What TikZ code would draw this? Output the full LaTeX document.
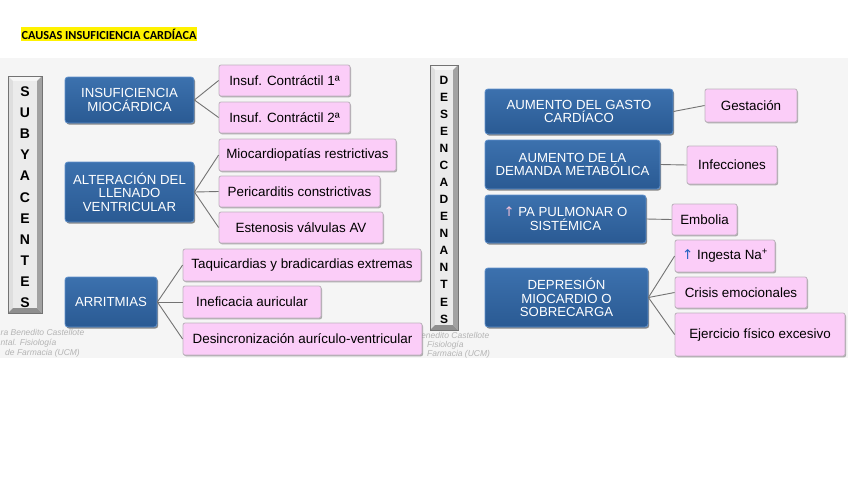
\documentclass[tikz,border=0pt]{standalone}
\usepackage{fontspec}
\setmainfont{Liberation Sans}
\newfontfamily\titlefont{Carlito}
\newfontfamily\symfont{DejaVu Sans}
\usetikzlibrary{shadows}
\definecolor{bluetop}{HTML}{3C71AE}
\definecolor{bluebot}{HTML}{2A5A93}
\definecolor{blueedge}{HTML}{5F90CB}
\definecolor{pinkfill}{HTML}{FBCDF8}
\definecolor{pinkedge}{HTML}{BDB3BD}
\definecolor{linkgray}{HTML}{737373}
\definecolor{wmgray}{HTML}{B4B4B4}
\definecolor{bgray}{HTML}{F5F5F5}
\definecolor{bevtop}{HTML}{F6F6F6}
\definecolor{bevleft}{HTML}{DEDEDE}
\definecolor{bevright}{HTML}{A2A2A2}
\definecolor{bevbot}{HTML}{8E8E8E}
\definecolor{bevin}{HTML}{EBEBEB}
\definecolor{uparrowpink}{HTML}{F2C0D8}
\definecolor{uparrowblue}{HTML}{2060C0}
\newcommand{\bevbox}[4]{%
  \fill[bevtop] (#1,#2) -- (#3,#2) -- ({#3-5},{#2+5}) -- ({#1+5},{#2+5}) -- cycle;
  \fill[bevleft] (#1,#2) -- ({#1+5},{#2+5}) -- ({#1+5},{#4-5}) -- (#1,#4) -- cycle;
  \fill[bevright] (#3,#2) -- (#3,#4) -- ({#3-5},{#4-5}) -- ({#3-5},{#2+5}) -- cycle;
  \fill[bevbot] (#1,#4) -- ({#1+5},{#4-5}) -- ({#3-5},{#4-5}) -- (#3,#4) -- cycle;
  \fill[bevin] ({#1+5},{#2+5}) rectangle ({#3-5},{#4-5});
  \draw[black!55, line width=0.6pt] (#1,#2) rectangle (#3,#4);
}
\begin{document}
\begin{tikzpicture}[x=1pt,y=-1pt,
  bluebox/.style={rounded corners=3pt, top color=bluetop, bottom color=bluebot,
    draw=blueedge, line width=0.8pt, text=white, align=center,
    font=\fontsize{13.2}{13.6}\selectfont, inner sep=1pt,
    drop shadow={shadow xshift=1.2pt, shadow yshift=-1.6pt, opacity=0.45, fill=black}},
  pinkbox/.style={rounded corners=2pt, fill=pinkfill, draw=pinkedge, line width=0.8pt,
    align=center, font=\fontsize{13.4}{15}\selectfont, inner sep=1pt,
    drop shadow={shadow xshift=1pt, shadow yshift=-1.3pt, opacity=0.3, fill=black}},
  link/.style={draw=linkgray, line width=0.9pt},
  letterA/.style={font=\bfseries\fontsize{14}{14}\selectfont, inner sep=0pt},
  letterB/.style={font=\bfseries\fontsize{12}{12}\selectfont, inner sep=0pt},
  wm/.style={text=wmgray, font=\itshape\fontsize{8.5}{9}\selectfont, inner sep=0pt, anchor=west}
]
\useasboundingbox (0,0) rectangle (848,477);
% background of the two slides
\fill[bgray] (0,58) rectangle (848,358);
\node[wm] (wma) at (0.5,332) {ra Benedito Castellote};
\node[wm] (wmb) at (0.5,343.5) {ntal. Fisiología};
\node[wm] (wmc) at (5,353.5) {de Farmacia (UCM)};
\node[wm] (wmd) at (421,335) {enedito Castellote};
\node[wm] (wme) at (427,345) {Fisiología};
\node[wm] (wmf) at (427,354) {Farmacia (UCM)};

% title
\node[anchor=west, fill=yellow, inner xsep=0.5pt, inner ysep=1.5pt,
  font=\titlefont\bfseries\fontsize{12.3}{13}\selectfont] (title) at (21,34)
  {CAUSAS INSUFICIENCIA CARDÍACA};

% letter columns
\bevbox{8}{76}{42}{313}
\foreach \l [count=\i] in {S,U,B,Y,A,C,E,N,T,E,S}
  \node[letterA] (sub\i) at (25,{91.7+(\i-1)*21.1}) {\l};
\bevbox{430}{65}{458}{330}
\foreach \l [count=\i] in {D,E,S,E,N,C,A,D,E,N,A,N,T,E,S}
  \node[letterB] (des\i) at (444,{80+(\i-1)*17.07}) {\l};

% left diagram
\node[bluebox, minimum width=129, minimum height=46] (im) at (129.5,100) {INSUFICIENCIA\\MIOCÁRDICA};
\node[pinkbox, minimum width=131, minimum height=31] (ic1) at (284.5,80.5) {Insuf. Contráctil 1ª};
\node[pinkbox, minimum width=131, minimum height=31] (ic2) at (284.5,117.5) {Insuf. Contráctil 2ª};
\node[bluebox, minimum width=129, minimum height=60] (alt) at (129.5,192) {ALTERACIÓN DEL\\LLENADO\\VENTRICULAR};
\node[pinkbox, minimum width=177, minimum height=32] (mr) at (307.5,155) {Miocardiopatías restrictivas};
\node[pinkbox, minimum width=161, minimum height=31] (pc) at (299.5,191.5) {Pericarditis constrictivas};
\node[pinkbox, minimum width=164, minimum height=31] (ev) at (301,227.5) {Estenosis válvulas AV};
\node[bluebox, minimum width=92, minimum height=50] (arr) at (111,302) {ARRITMIAS};
\node[pinkbox, minimum width=238, minimum height=32] (tq) at (302,265) {Taquicardias y bradicardias extremas};
\node[pinkbox, minimum width=138, minimum height=32] (ia) at (252,302) {Ineficacia auricular};
\node[pinkbox, minimum width=239, minimum height=32] (ds) at (302.5,339) {Desincronización aurículo-ventricular};

\draw[link] (im.east) -- (ic1.west);
\draw[link] (im.east) -- (ic2.west);
\draw[link] (alt.east) -- (mr.west);
\draw[link] (alt.east) -- (pc.west);
\draw[link] (alt.east) -- (ev.west);
\draw[link] (arr.east) -- (tq.west);
\draw[link] (arr.east) -- (ia.west);
\draw[link] (arr.east) -- (ds.west);

% right diagram
\node[bluebox, minimum width=188, minimum height=45] (agc) at (579,111.5) {AUMENTO DEL GASTO\\CARDÍACO};
\node[pinkbox, minimum width=92, minimum height=33] (gest) at (751,105.5) {Gestación};
\node[bluebox, minimum width=175, minimum height=49] (adm) at (572.5,164.5) {AUMENTO DE LA\\DEMANDA METABÓLICA};
\node[pinkbox, minimum width=90, minimum height=38] (inf) at (732,165) {Infecciones};
\node[bluebox, minimum width=161, minimum height=48] (pa) at (565.5,219) {{\symfont\color{uparrowpink}↑} PA PULMONAR O\\SISTÉMICA};
\node[pinkbox, minimum width=65, minimum height=31] (emb) at (704.5,219.5) {Embolia};
\node[bluebox, minimum width=163, minimum height=59] (dep) at (566.5,297.5) {DEPRESIÓN\\MIOCARDIO O\\SOBRECARGA};
\node[pinkbox, minimum width=100, minimum height=32] (ing) at (725,256) {{\symfont\color{uparrowblue}↑} Ingesta Na\textsuperscript{+}};
\node[pinkbox, minimum width=132, minimum height=31] (cri) at (741,292.5) {Crisis emocionales};
\node[pinkbox, minimum width=170, minimum height=43] (eje) at (760,334.5) {Ejercicio físico excesivo};

\draw[link] (agc.east) -- (gest.west);
\draw[link] (adm.east) -- (inf.west);
\draw[link] (pa.east) -- (emb.west);
\draw[link] (dep.east) -- (ing.west);
\draw[link] (dep.east) -- (cri.west);
\draw[link] (dep.east) -- (eje.west);
\end{tikzpicture}
\end{document}
